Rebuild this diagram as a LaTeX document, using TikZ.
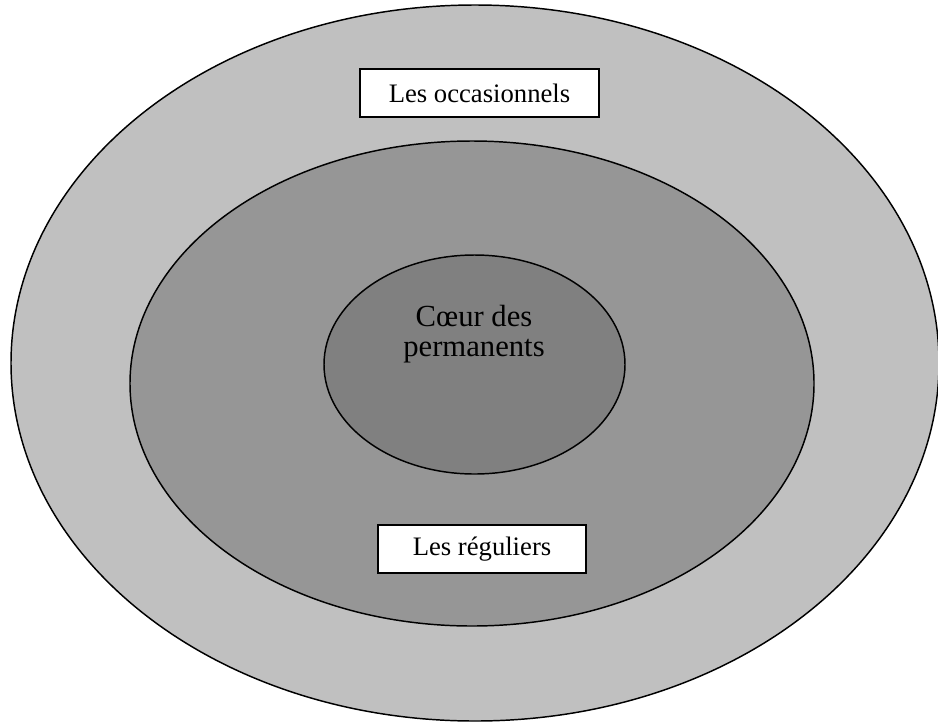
\documentclass[tikz,border=0pt]{standalone}
\usepackage{fontspec}
\setmainfont{Liberation Serif}
\usetikzlibrary{shapes.geometric}
\definecolor{outergray}{RGB}{192,192,192}
\definecolor{midgray}{RGB}{150,150,150}
\definecolor{innergray}{RGB}{128,128,128}
\tikzset{
  ring/.style={ellipse, draw=black, line width=1.1pt, inner sep=0pt},
  labelbox/.style={rectangle, draw=black, line width=1.1pt, fill=white, inner sep=0pt,
    minimum height=36pt, font=\fontsize{20}{24}\selectfont},
}
\begin{document}
\begin{tikzpicture}[x=0.75pt,y=-0.75pt]
\useasboundingbox (0,0) rectangle (938,722);
\node[ring, fill=outergray, minimum width=696pt, minimum height=537pt] (outer) at (475,363) {};
\node[ring, fill=midgray, minimum width=513pt, minimum height=363.75pt] (middle) at (472,383.5) {};
\node[ring, fill=innergray, minimum width=225.75pt, minimum height=164.25pt] (inner) at (474.5,364.5) {};
\node[align=center, font=\fontsize{23}{22.5}\selectfont, inner sep=0pt] (coeur) at (474,334) {Cœur des\\permanents};
\node[labelbox, minimum width=179.25pt] (occ) at (479.5,93) {Les occasionnels};
\node[labelbox, minimum width=156pt] (reg) at (482,549) {Les réguliers};
\end{tikzpicture}
\end{document}
